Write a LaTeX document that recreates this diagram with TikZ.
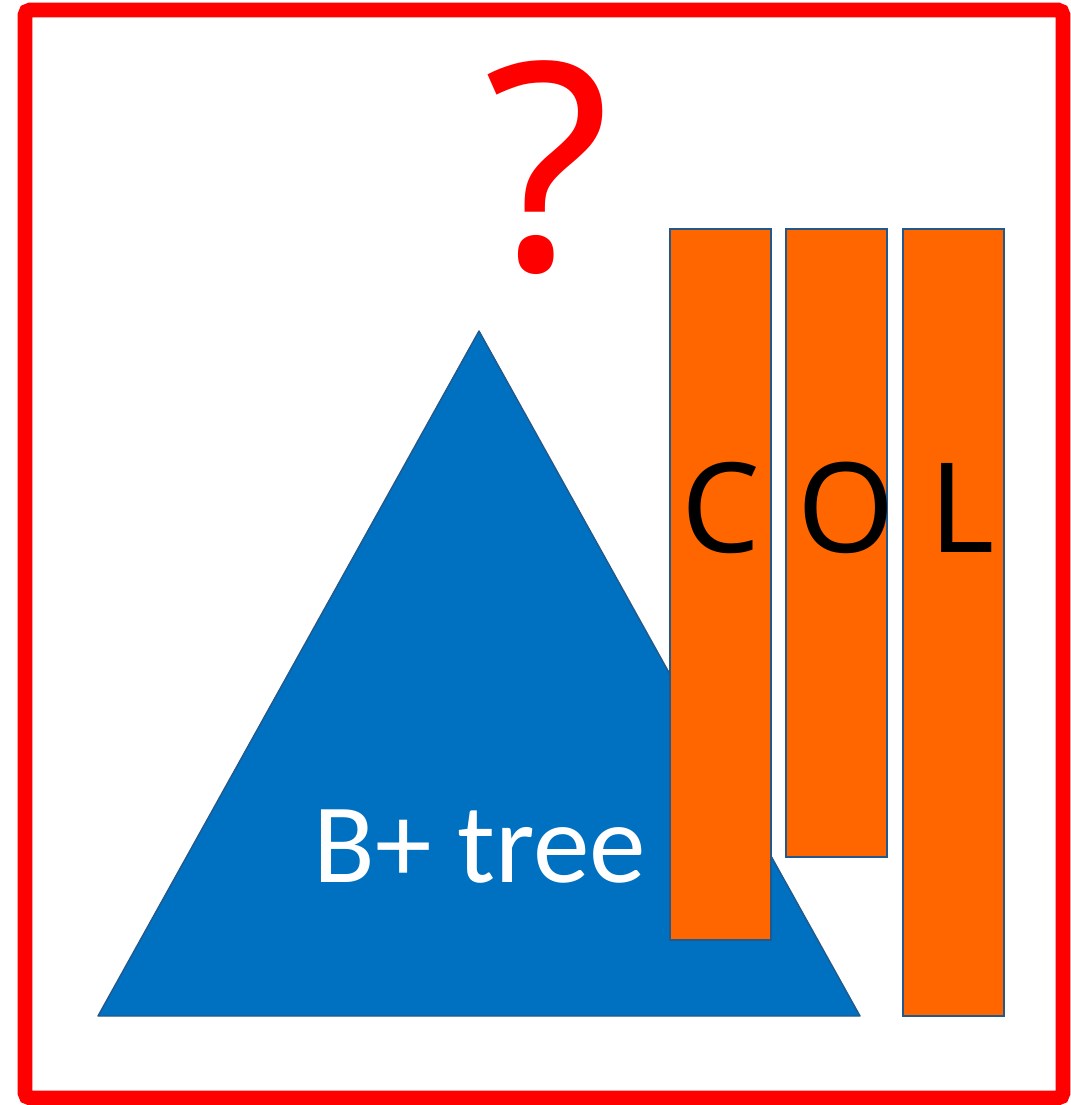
\documentclass[tikz,border=0pt]{standalone}
\usepackage{fontspec}
\setmainfont{Noto Sans}
\newfontfamily\treefont{Carlito}
\usetikzlibrary{positioning}

\definecolor{treeblue}{RGB}{0,112,192}
\definecolor{colorange}{RGB}{255,102,0}
\definecolor{edgeblue}{RGB}{33,89,140}

\begin{document}
\begin{tikzpicture}
[x=0.02cm,
 y=-0.02cm,
 frame/.style={draw=red, line width=8.5pt, rounded corners=3pt},
 tree/.style={fill=treeblue, draw=edgeblue, line width=0.8pt, line join=round},
 column/.style={fill=colorange, draw=edgeblue, line width=1pt},
 letter/.style={inner sep=0pt, anchor=base, font=\fontsize{71}{71}\selectfont},
]
\useasboundingbox (0,0) rectangle (1071,1105);

\draw[frame] (25,10) rectangle (1063,1098);

% the tree
\coordinate (apex) at (479,331);
\coordinate (left) at (98,1016);
\coordinate (right) at (860,1016);
\draw[tree] (apex) -- (right) -- (left) -- cycle;
\node[inner sep=0pt, anchor=base, text=white,
      font=\treefont\fontsize{64.5}{64.5}\selectfont] (btree) at (480,882) {B+ tree};

% columns
\draw[column] (670,229) rectangle (771,940);
\draw[column] (786,229) rectangle (887,857);
\draw[column] (903,229) rectangle (1004,1016);

\node[letter] (c) at (721,552) {C};
\node[letter] (o) at (846,552) {O};
\node[letter] (l) at (962,552) {L};

\node[inner sep=0pt, anchor=base, text=red,
      font=\fontsize{165}{165}\selectfont] (what) at (547,270) {?};
\end{tikzpicture}
\end{document}
